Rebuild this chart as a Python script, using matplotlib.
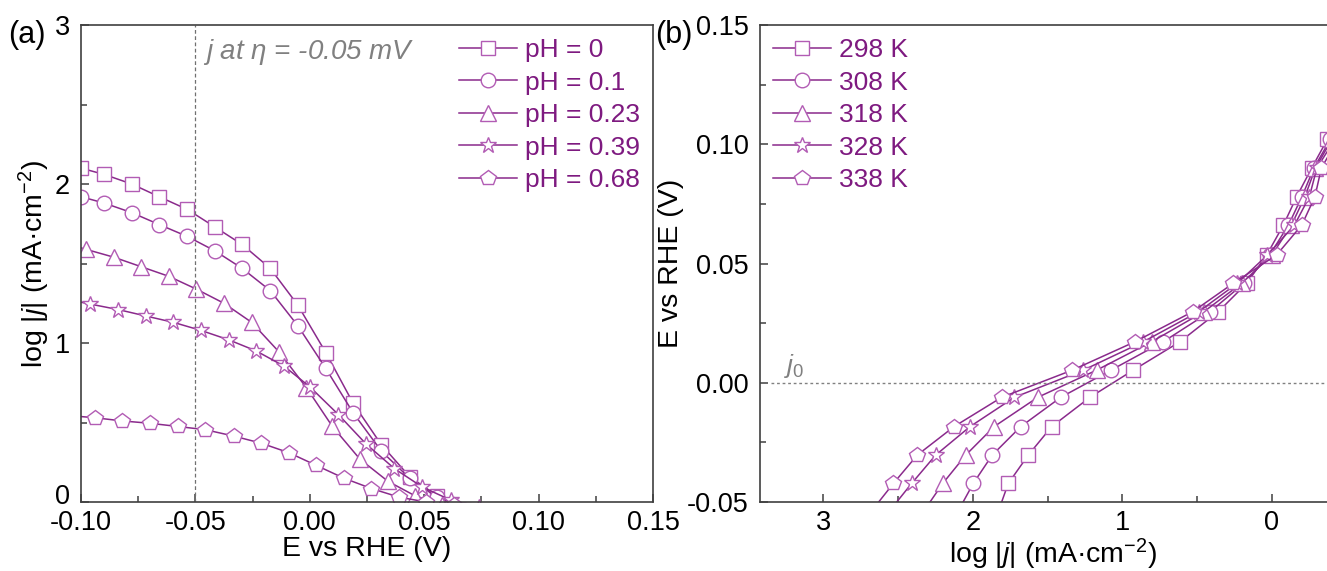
import numpy as np
import matplotlib
matplotlib.use('Agg')
import matplotlib.pyplot as plt
from matplotlib.ticker import MultipleLocator, FormatStrFormatter
from matplotlib.transforms import ScaledTranslation

plt.rcParams['font.family'] = ['Liberation Sans', 'DejaVu Sans']
plt.rcParams['mathtext.fontset'] = 'custom'
plt.rcParams['mathtext.rm'] = 'Liberation Sans'
plt.rcParams['mathtext.it'] = 'Liberation Sans:italic'

# (a) log|j| vs E at different pH
ph_labels = ['pH = 0', 'pH = 0.1', 'pH = 0.23', 'pH = 0.39', 'pH = 0.68']
E_ph0 = [-0.100, -0.0898, -0.0778, -0.0658, -0.0535, -0.0415, -0.0296, -0.0173, -0.0053, 0.0070, 0.0190, 0.0313, 0.0436, 0.0555, 0.0675]
j_ph0 = [2.10, 2.06, 2.00, 1.92, 1.84, 1.73, 1.62, 1.47, 1.24, 0.94, 0.62, 0.36, 0.16, 0.04, -0.05]
E_ph01 = [-0.100, -0.0898, -0.0778, -0.0658, -0.0535, -0.0415, -0.0296, -0.0173, -0.0053, 0.0070, 0.0190, 0.0313, 0.0436, 0.0555, 0.0675]
j_ph01 = [1.92, 1.88, 1.82, 1.745, 1.67, 1.58, 1.47, 1.33, 1.11, 0.84, 0.56, 0.32, 0.15, 0.03, -0.05]
E_ph023 = [-0.110, -0.098, -0.0857, -0.0737, -0.0617, -0.0497, -0.0375, -0.0254, -0.0135, -0.0015, 0.0099, 0.0219, 0.0342, 0.0459, 0.058]
j_ph023 = [1.64, 1.59, 1.54, 1.48, 1.42, 1.34, 1.25, 1.13, 0.945, 0.72, 0.475, 0.27, 0.13, 0.04, -0.02]
E_ph039 = [-0.108, -0.096, -0.0836, -0.0717, -0.0596, -0.0477, -0.0354, -0.0234, -0.0113, 0.0000, 0.0125, 0.0246, 0.0370, 0.0491, 0.0619, 0.074]
j_ph039 = [1.28, 1.245, 1.21, 1.17, 1.13, 1.08, 1.02, 0.95, 0.855, 0.725, 0.55, 0.365, 0.21, 0.095, 0.01, -0.03]
E_ph068 = [-0.106, -0.0939, -0.0819, -0.0697, -0.0576, -0.0457, -0.0333, -0.0212, -0.0091, 0.0029, 0.0149, 0.0269, 0.0392, 0.051, 0.063]
j_ph068 = [0.545, 0.53, 0.51, 0.495, 0.475, 0.455, 0.415, 0.37, 0.31, 0.23, 0.15, 0.085, 0.03, 0.0, -0.02]

# (b) Tafel plots at different temperatures
T_labels = ['298 K', '308 K', '318 K', '328 K', '338 K']
E_T = [-0.054, -0.0422, -0.0303, -0.0184, -0.0061, 0.0053, 0.0172, 0.0298, 0.0417, 0.0536, 0.0661, 0.078, 0.090, 0.102]
j_298 = [1.83, 1.763, 1.629, 1.473, 1.217, 0.927, 0.615, 0.359, 0.169, 0.035, -0.076, -0.165, -0.265, -0.37]
j_308 = [2.10, 1.997, 1.870, 1.680, 1.412, 1.076, 0.727, 0.414, 0.187, 0.015, -0.11, -0.20, -0.28, -0.39]
j_318 = [2.33, 2.201, 2.047, 1.858, 1.566, 1.172, 0.804, 0.455, 0.203, 0.0, -0.13, -0.22, -0.29, -0.40]
j_328 = [2.56, 2.409, 2.248, 2.019, 1.722, 1.261, 0.86, 0.49, 0.232, 0.03, -0.15, -0.25, -0.30, -0.42]
j_338 = [2.68, 2.531, 2.371, 2.126, 1.807, 1.335, 0.916, 0.530, 0.259, -0.031, -0.199, -0.287, -0.33, -0.44]

markers = ['s', 'o', '^', '*', 'p']
msizes = [10, 10.5, 11.5, 12, 11.5]
line_c = '#8a2a8c'
mark_c = '#b25cb4'
text_c = '#7e1a80'
spine_c = '#404040'

fig = plt.figure(figsize=(13.27, 5.71), dpi=100)
ax1 = fig.add_axes([0.0610, 0.1208, 0.4311, 0.8354])
ax2 = fig.add_axes([0.5727, 0.1208, 0.4422, 0.8354])

def style(ax):
    for s in ax.spines.values():
        s.set_color(spine_c)
        s.set_linewidth(1.2)
    ax.tick_params(which='both', direction='in', top=False, right=False,
                   labelsize=19.5, color=spine_c, width=1.1)
    ax.tick_params(axis='x', pad=6)
    ax.tick_params(axis='y', pad=8)
    ax.tick_params(which='major', length=6)
    ax.tick_params(which='minor', length=4)

a_E = [E_ph0, E_ph01, E_ph023, E_ph039, E_ph068]
a_j = [j_ph0, j_ph01, j_ph023, j_ph039, j_ph068]
for i in range(5):
    ax1.plot(a_E[i], a_j[i], color=line_c, lw=1.1, marker=markers[i], ms=msizes[i],
             mfc='white', mec=mark_c, mew=1.0, label=ph_labels[i])
ax1.axvline(-0.05, color='#707070', lw=0.9, ls=(0, (3, 2)))
ax1.set_xlim(-0.10, 0.15)
ax1.set_ylim(0, 3)
ax1.xaxis.set_major_locator(MultipleLocator(0.05))
ax1.xaxis.set_minor_locator(MultipleLocator(0.025))
ax1.set_yticks([0, 1, 2, 3])
ax1.yaxis.set_minor_locator(MultipleLocator(0.5))
ax1.xaxis.set_major_formatter(FormatStrFormatter('%.2f'))
style(ax1)
# nudge the "0" label up so it clears "-0.10"
lab0 = ax1.yaxis.get_major_ticks()[0].label1
lab0.set_transform(lab0.get_transform() + ScaledTranslation(0, 6 / 72, fig.dpi_scale_trans))
ax1.set_xlabel('E vs RHE (V)', fontsize=20.5, labelpad=0)
ax1.set_ylabel(r'log |$j$| (mA·cm$^{-2}$)', fontsize=20.5, labelpad=2)
ax1.text(-0.0465, 2.83, r'j at $\eta$ = -0.05 mV', color='#808080', fontsize=20,
         style='italic', va='center', ha='left')
leg1 = ax1.legend(loc='upper right', bbox_to_anchor=(1.0, 1.0), frameon=False, fontsize=19,
                  handlelength=2.2, handletextpad=0.3, labelspacing=0.32, borderaxespad=0.1)
for t in leg1.get_texts():
    t.set_color(text_c)
fig.text(0.006, 0.925, '(a)', fontsize=22)

b_j = [j_298, j_308, j_318, j_328, j_338]
for i in range(5):
    ax2.plot(b_j[i], E_T, color=line_c, lw=1.1, marker=markers[i], ms=msizes[i],
             mfc='white', mec=mark_c, mew=1.0, label=T_labels[i])
ax2.hlines(0, 3.35, -0.5, color='#808080', lw=1.0, ls=(0, (2, 2)))
ax2.text(3.26, 0.001, r'$j_0$', color='#808080', fontsize=19, ha='left', va='bottom')
ax2.set_xlim(3.423, -0.5)
ax2.set_ylim(-0.05, 0.15)
ax2.xaxis.set_major_locator(MultipleLocator(1))
ax2.xaxis.set_minor_locator(MultipleLocator(0.5))
ax2.yaxis.set_major_locator(MultipleLocator(0.05))
ax2.yaxis.set_minor_locator(MultipleLocator(0.025))
ax2.yaxis.set_major_formatter(FormatStrFormatter('%.2f'))
style(ax2)
ax2.set_xlabel(r'log |$j$| (mA·cm$^{-2}$)', fontsize=20.5, labelpad=0)
ax2.set_ylabel('E vs RHE (V)', fontsize=20.5, labelpad=2)
leg2 = ax2.legend(loc='upper left', bbox_to_anchor=(0.0, 1.0), frameon=False, fontsize=19,
                  handlelength=2.2, handletextpad=0.3, labelspacing=0.32, borderaxespad=0.1)
for t in leg2.get_texts():
    t.set_color(text_c)
fig.text(0.494, 0.925, '(b)', fontsize=22)

fig.savefig('out.png', dpi=100)
